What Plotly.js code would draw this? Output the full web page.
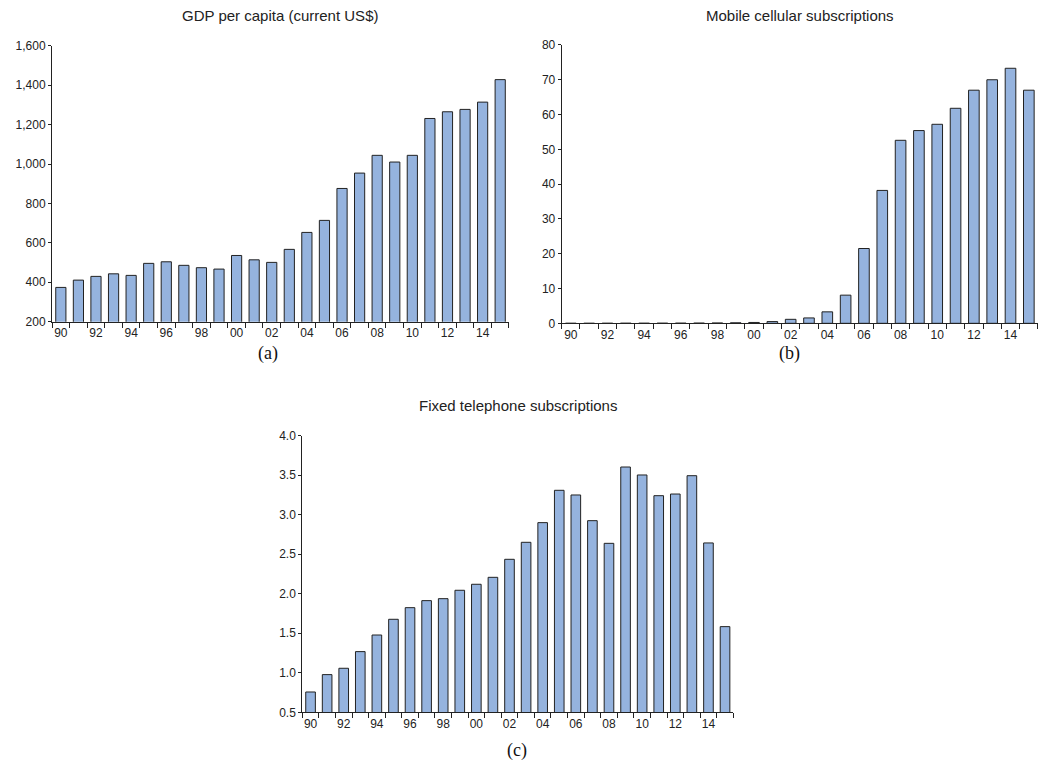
<!DOCTYPE html>
<html>
<head>
<meta charset="utf-8">
<script src="https://cdn.plot.ly/plotly-3.0.1.min.js"></script>
<style>html,body{margin:0;padding:0;background:#fff;}#chart{width:1043px;height:766px;}</style>
</head>
<body>
<div id="chart"></div>
<script>
const years = [1990,1991,1992,1993,1994,1995,1996,1997,1998,1999,2000,2001,2002,2003,2004,2005,2006,2007,2008,2009,2010,2011,2012,2013,2014,2015];
const tickYears = [1990,1992,1994,1996,1998,2000,2002,2004,2006,2008,2010,2012,2014];
const tickText = ['90','92','94','96','98','00','02','04','06','08','10','12','14'];
const boundaries = [1989.5,1990.5,1991.5,1992.5,1993.5,1994.5,1995.5,1996.5,1997.5,1998.5,1999.5,2000.5,2001.5,2002.5,2003.5,2004.5,2005.5,2006.5,2007.5,2008.5,2009.5,2010.5,2011.5,2012.5,2013.5,2014.5,2015.5];

const gdpPerCapita = [374,411,430,443,435,496,504,486,474,467,536,514,501,567,653,714,876,954,1044,1010,1044,1231,1265,1277,1314,1428];
const mobileSubs = [0.01,0.01,0.02,0.03,0.03,0.04,0.05,0.07,0.1,0.15,0.25,0.5,1.15,1.55,3.3,8.1,21.5,38.2,52.6,55.4,57.2,61.8,67.0,70.0,73.3,67.0];
const fixedSubs = [0.757,0.977,1.057,1.268,1.478,1.677,1.824,1.913,1.938,2.044,2.12,2.208,2.436,2.651,2.9,3.309,3.25,2.925,2.638,3.604,3.503,3.241,3.262,3.494,2.643,1.584];

const titles = ['GDP per capita (current US$)','Mobile cellular subscriptions','Fixed telephone subscriptions'];
const captions = ['(a)','(b)','(c)'];

const barColor = '#95B3DE';
const font = {family: 'Liberation Sans, Arial, sans-serif', size: 12, color: '#222'};
const titleFont = {family: 'Liberation Sans, Arial, sans-serif', size: 15, color: '#222'};
const capFont = {family: 'Liberation Serif, Times New Roman, serif', size: 18, color: '#111'};

function bar(y, xa, ya) {
  return {type: 'bar', x: years, y: y, xaxis: xa, yaxis: ya, width: 0.58,
    marker: {color: barColor, line: {color: '#222', width: 1}}, hoverinfo: 'x+y'};
}

function xAxis(domain, anchor) {
  return {domain: domain, anchor: anchor, range: [1989.5, 2015.5], showgrid: false, zeroline: false,
    showline: true, linecolor: '#222', linewidth: 1,
    tickmode: 'array', tickvals: tickYears, ticktext: tickText, ticks: '',
    tickfont: font,
    minor: {tickmode: 'array', tickvals: boundaries, ticks: 'outside', ticklen: 5, tickcolor: '#222', tickwidth: 1, showgrid: false}};
}
function yAxis(domain, anchor, range, dtick, fmt) {
  return {domain: domain, anchor: anchor, range: range, dtick: dtick, tick0: range[0], tickformat: fmt,
    showgrid: false, zeroline: false, showline: true, linecolor: '#222', linewidth: 1,
    ticks: 'outside', ticklen: 3, tickcolor: '#222', tickfont: font};
}

const data = [bar(gdpPerCapita,'x','y'), bar(mobileSubs,'x2','y2'), bar(fixedSubs,'x3','y3')];

function ann(text, px, py, f) {
  return {text: text, xref: 'paper', yref: 'paper', x: px/1043, y: 1 - py/766, showarrow: false,
    xanchor: 'center', yanchor: 'middle', font: f};
}

const layout = {
  width: 1043, height: 766, margin: {l: 0, r: 0, t: 0, b: 0},
  paper_bgcolor: '#fff', plot_bgcolor: '#fff', showlegend: false, bargap: 0,
  font: font,
  xaxis: xAxis([0.0499, 0.4880], 'y'),
  yaxis: yAxis([0.580, 0.9403], 'x', [200, 1600], 200, ','),
  xaxis2: xAxis([0.5385, 0.9952], 'y2'),
  yaxis2: yAxis([0.5779, 0.9413], 'x2', [0, 80], 10, 'd'),
  xaxis3: xAxis([0.2898, 0.7031], 'y3'),
  yaxis3: yAxis([0.0701, 0.4312], 'x3', [0.5, 4.0], 0.5, '.1f'),
  annotations: [
    ann(titles[0], 280, 15, titleFont),
    ann(titles[1], 800, 15, titleFont),
    ann(titles[2], 518, 405, titleFont),
    ann(captions[0], 268, 353, capFont),
    ann(captions[1], 789, 353, capFont),
    ann(captions[2], 517, 750, capFont)
  ]
};

Plotly.newPlot('chart', data, layout, {displayModeBar: false, staticPlot: true});
</script>
</body>
</html>
